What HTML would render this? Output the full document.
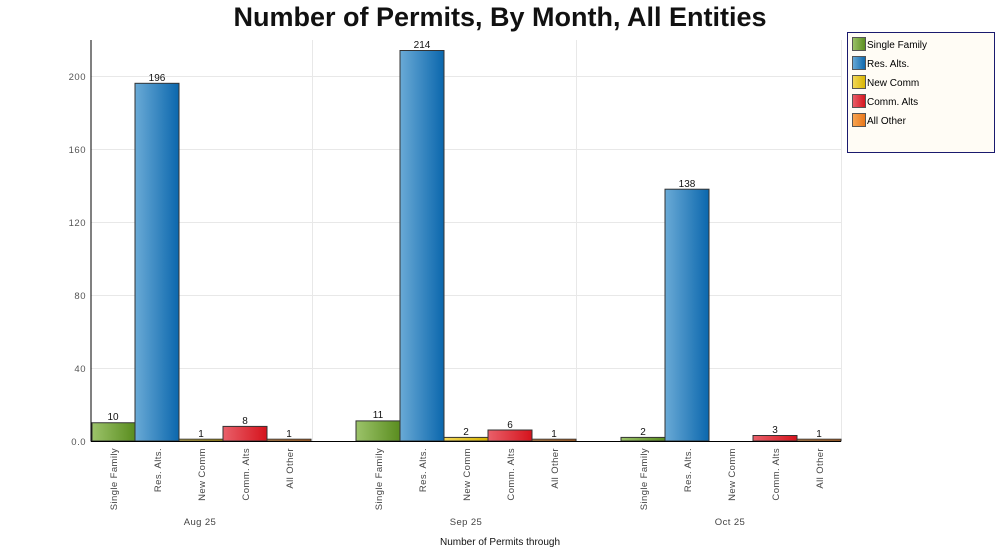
<!DOCTYPE html>
<html><head><meta charset="utf-8"><style>body{margin:0;background:#fff}svg{display:block}text{font-family:"Liberation Sans",sans-serif}</style></head><body>
<svg width="1000" height="554" viewBox="0 0 1000 554" xmlns="http://www.w3.org/2000/svg">
<defs>
<linearGradient id="g" x1="0" x2="1"><stop offset="0" stop-color="#9cc36a"/><stop offset="1" stop-color="#5a8d1f"/></linearGradient>
<linearGradient id="b" x1="0" x2="1"><stop offset="0" stop-color="#6aaad6"/><stop offset="1" stop-color="#0b67ad"/></linearGradient>
<linearGradient id="y" x1="0" x2="1"><stop offset="0" stop-color="#f2d85a"/><stop offset="1" stop-color="#d8b400"/></linearGradient>
<linearGradient id="r" x1="0" x2="1"><stop offset="0" stop-color="#e9606a"/><stop offset="1" stop-color="#d5131c"/></linearGradient>
<linearGradient id="o" x1="0" x2="1"><stop offset="0" stop-color="#f8a552"/><stop offset="1" stop-color="#e8761a"/></linearGradient>
</defs>
<text x="500" y="26" text-anchor="middle" font-size="27" font-weight="bold" fill="#111">Number of Permits, By Month, All Entities</text>
<g stroke="#e8e8e8" stroke-width="1">
<line x1="91" y1="76.5" x2="841" y2="76.5"/><line x1="91" y1="149.5" x2="841" y2="149.5"/><line x1="91" y1="222.5" x2="841" y2="222.5"/><line x1="91" y1="295.5" x2="841" y2="295.5"/><line x1="91" y1="368.5" x2="841" y2="368.5"/>
<line x1="312.5" y1="40" x2="312.5" y2="441"/><line x1="576.5" y1="40" x2="576.5" y2="441"/><line x1="841.5" y1="40" x2="841.5" y2="441"/>
</g>
<g font-size="9.5" fill="#555" text-anchor="end" letter-spacing="0.5">
<text x="86" y="80">200</text><text x="86" y="153">160</text><text x="86" y="226">120</text><text x="86" y="299">80</text><text x="86" y="372">40</text><text x="86" y="445">0.0</text>
</g>
<g stroke="#333" stroke-width="1">
<rect x="92" y="422.75" width="43" height="18.25" fill="url(#g)"/>
<rect x="135" y="83.3" width="44" height="357.7" fill="url(#b)"/>
<rect x="179" y="439.2" width="44" height="1.8" fill="url(#y)"/>
<rect x="223" y="426.4" width="44" height="14.6" fill="url(#r)"/>
<rect x="267" y="439.2" width="44" height="1.8" fill="url(#o)"/>
<rect x="356" y="420.9" width="44" height="20.1" fill="url(#g)"/>
<rect x="400" y="50.5" width="44" height="390.5" fill="url(#b)"/>
<rect x="444" y="437.4" width="44" height="3.6" fill="url(#y)"/>
<rect x="488" y="430" width="44" height="11" fill="url(#r)"/>
<rect x="532" y="439.2" width="44" height="1.8" fill="url(#o)"/>
<rect x="621" y="437.4" width="44" height="3.6" fill="url(#g)"/>
<rect x="665" y="189.2" width="44" height="251.8" fill="url(#b)"/>
<rect x="753" y="435.5" width="44" height="5.5" fill="url(#r)"/>
<rect x="797" y="439.2" width="44" height="1.8" fill="url(#o)"/>
</g>
<line x1="91" y1="40" x2="91" y2="441.5" stroke="#000"/>
<line x1="91" y1="441.5" x2="841" y2="441.5" stroke="#000"/>
<g font-size="10" fill="#111" text-anchor="middle">
<text x="113" y="420">10</text><text x="157" y="81">196</text><text x="201" y="437">1</text><text x="245" y="424">8</text><text x="289" y="437">1</text>
<text x="378" y="418">11</text><text x="422" y="48">214</text><text x="466" y="435">2</text><text x="510" y="428">6</text><text x="554" y="437">1</text>
<text x="643" y="435">2</text><text x="687" y="187">138</text><text x="775" y="433">3</text><text x="819" y="437">1</text>
</g>
<g font-size="9.5" fill="#444" text-anchor="end" letter-spacing="0.4">
<text transform="translate(117,448) rotate(-90)">Single Family</text>
<text transform="translate(161,448) rotate(-90)">Res. Alts.</text>
<text transform="translate(205,448) rotate(-90)">New Comm</text>
<text transform="translate(249,448) rotate(-90)">Comm. Alts</text>
<text transform="translate(293,448) rotate(-90)">All Other</text>
<text transform="translate(382,448) rotate(-90)">Single Family</text>
<text transform="translate(426,448) rotate(-90)">Res. Alts.</text>
<text transform="translate(470,448) rotate(-90)">New Comm</text>
<text transform="translate(514,448) rotate(-90)">Comm. Alts</text>
<text transform="translate(558,448) rotate(-90)">All Other</text>
<text transform="translate(647,448) rotate(-90)">Single Family</text>
<text transform="translate(691,448) rotate(-90)">Res. Alts.</text>
<text transform="translate(735,448) rotate(-90)">New Comm</text>
<text transform="translate(779,448) rotate(-90)">Comm. Alts</text>
<text transform="translate(823,448) rotate(-90)">All Other</text>
</g>
<g font-size="9.5" fill="#444" text-anchor="middle" letter-spacing="0.4">
<text x="200" y="525">Aug 25</text><text x="466" y="525">Sep 25</text><text x="730" y="525">Oct 25</text>
</g>
<text x="500" y="545" font-size="10" fill="#111" text-anchor="middle">Number of Permits  through</text>
<rect x="847.5" y="32.5" width="147" height="120" fill="#fffcf5" stroke="#1a1a6e"/>
<g stroke="#555" stroke-width="1">
<rect x="852.5" y="37.5" width="13" height="13" fill="url(#g)"/>
<rect x="852.5" y="56.5" width="13" height="13" fill="url(#b)"/>
<rect x="852.5" y="75.5" width="13" height="13" fill="url(#y)"/>
<rect x="852.5" y="94.5" width="13" height="13" fill="url(#r)"/>
<rect x="852.5" y="113.5" width="13" height="13" fill="url(#o)"/>
</g>
<g font-size="10" fill="#000">
<text x="867" y="48">Single Family</text><text x="867" y="67">Res. Alts.</text><text x="867" y="86">New Comm</text><text x="867" y="105">Comm. Alts</text><text x="867" y="124">All Other</text>
</g>
</svg>
</body></html>
